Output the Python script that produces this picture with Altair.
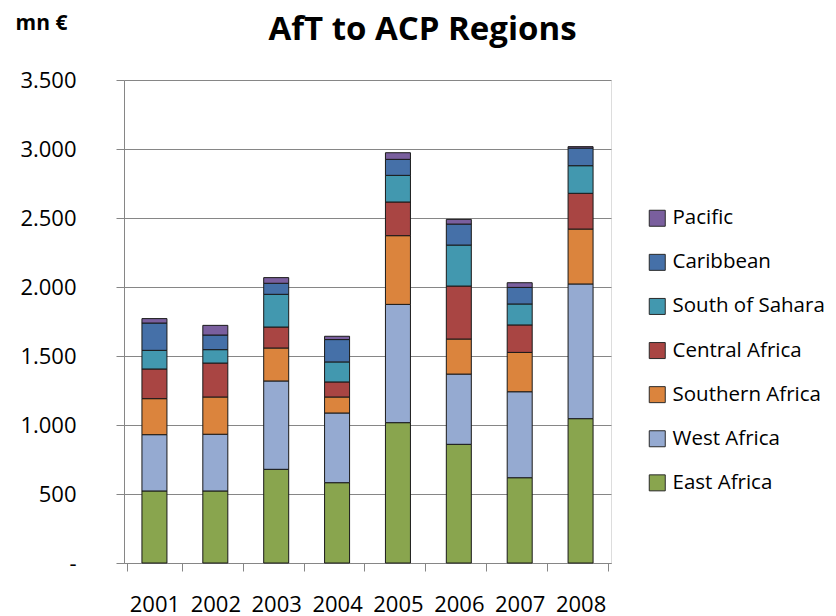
import altair as alt
import pandas as pd

years = ["2001", "2002", "2003", "2004", "2005", "2006", "2007", "2008"]
regions = ["Pacific", "Caribbean", "South of Sahara", "Central Africa",
           "Southern Africa", "West Africa", "East Africa"]
colors = ["#7A5F9E", "#4570A8", "#4298AF", "#A94543", "#DB843D", "#95AAD1", "#89A54E"]

east_africa = [522, 522, 679, 582, 1017, 860, 618, 1046]
west_africa = [408, 411, 640, 505, 857, 509, 623, 976]
southern_africa = [261, 270, 239, 116, 498, 254, 285, 398]
central_africa = [215, 246, 152, 109, 244, 384, 199, 259]
south_of_sahara = [135, 97, 237, 145, 193, 297, 152, 200]
caribbean = [198, 106, 80, 162, 116, 152, 120, 128]
pacific = [32, 70, 41, 24, 48, 34, 34, 10]

series = {
    "East Africa": east_africa,
    "West Africa": west_africa,
    "Southern Africa": southern_africa,
    "Central Africa": central_africa,
    "South of Sahara": south_of_sahara,
    "Caribbean": caribbean,
    "Pacific": pacific,
}

rows = []
for order, (name, vals) in enumerate(series.items()):
    for y, v in zip(years, vals):
        rows.append({"year": y, "region": name, "value": v, "stack_order": order})
df = pd.DataFrame(rows)

FONT = "Open Sans"

chart = alt.Chart(df).mark_bar(size=25, stroke="#1a1a1a", strokeWidth=1).encode(
    x=alt.X("year:N", title=None, sort=years,
            axis=alt.Axis(labelAngle=0, tickBand="extent", tickSize=8,
                          labelFontSize=22, labelFont=FONT, labelColor="#000000",
                          labelPadding=23, domainColor="#868686", tickColor="#868686",
                          grid=False)),
    y=alt.Y("value:Q", stack="zero",
            scale=alt.Scale(domain=[0, 3500], nice=False),
            title="mn €",
            axis=alt.Axis(values=[0, 500, 1000, 1500, 2000, 2500, 3000, 3500],
                          labelExpr="datum.value == 0 ? '-' : replace(format(datum.value, ','), ',', '.')",
                          labelFontSize=22, labelFont=FONT, labelColor="#000000",
                          labelPadding=40, tickSize=8, tickColor="#868686",
                          domainColor="#868686", gridColor="#868686", grid=True,
                          titleAngle=0, titleX=-83, titleY=-57, titleAlign="center",
                          titleBaseline="middle", titleFont=FONT, titleFontSize=21,
                          titleFontWeight="bold", titleColor="#000000")),
    color=alt.Color("region:N", sort=regions,
                    scale=alt.Scale(domain=regions, range=colors),
                    legend=alt.Legend(title=None, orient="none", legendX=523, legendY=128,
                                      symbolType="square", symbolSize=256,
                                      symbolStrokeColor="#2a2a2a", symbolStrokeWidth=1,
                                      symbolOpacity=1, labelFont=FONT, labelFontSize=20.5,
                                      labelColor="#000000", labelOffset=5,
                                      rowPadding=23.1, labelLimit=300)),
    order=alt.Order("stack_order:Q", sort="ascending"),
).properties(
    width=487,
    height=483,
    title=alt.TitleParams("AfT to ACP Regions", font=FONT, fontSize=33,
                          fontWeight="bold", color="#000000", anchor="middle",
                          frame="group", dx=55, offset=-61, baseline="alphabetic"),
    padding={"left": 116, "top": 72, "right": 217, "bottom": 51},
    autosize=alt.AutoSizeParams(type="none"),
).configure_view(stroke=None).configure(background="#ffffff")

chart.save("out.html", embed_options={"renderer": "svg", "actions": False})
